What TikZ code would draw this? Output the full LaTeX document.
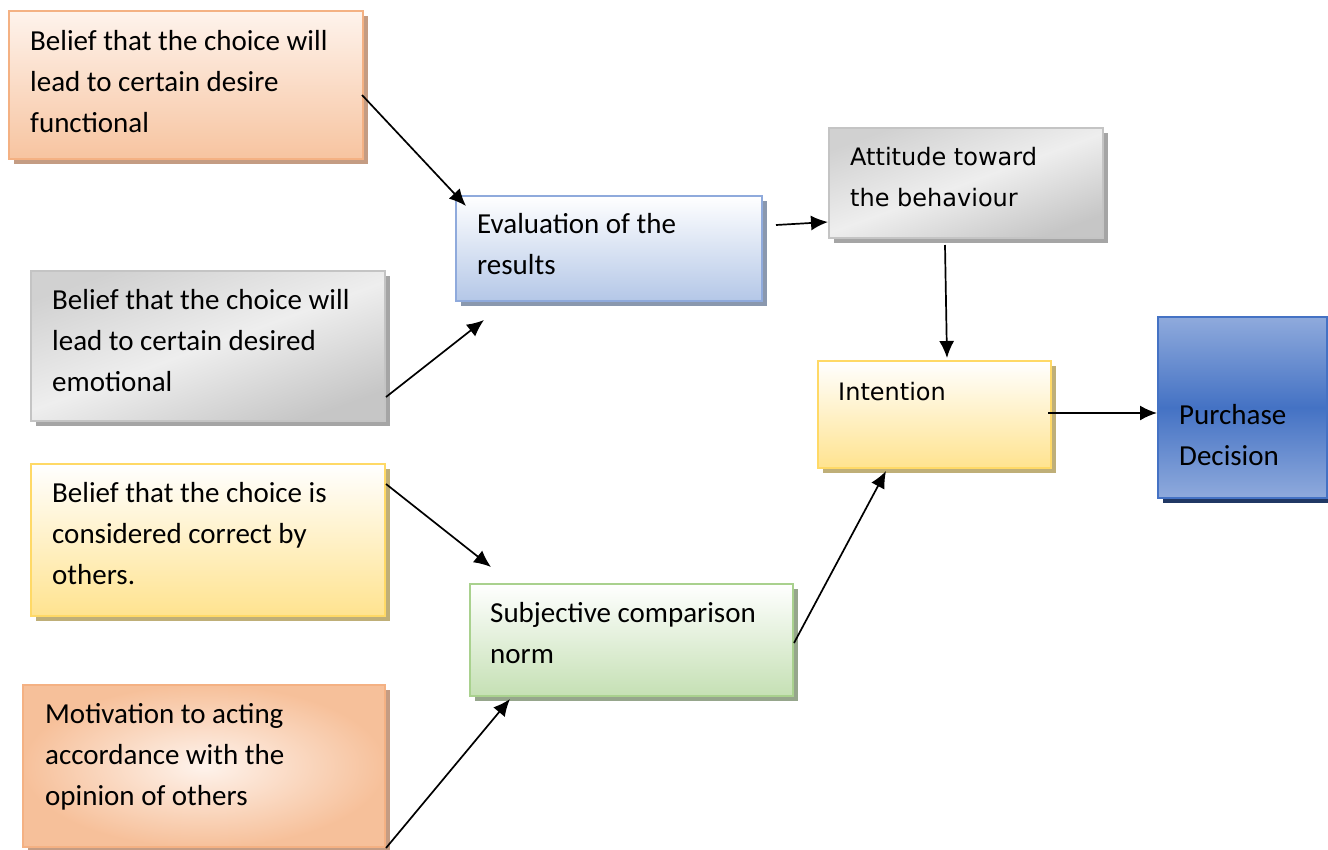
\documentclass[tikz,border=0pt]{standalone}
\usepackage{fontspec}
\setmainfont{Carlito}
\newfontfamily\dejavu{DejaVu Sans}
\usetikzlibrary{arrows.meta,shadows,calc}

\definecolor{orBorder}{HTML}{F4B183}
\definecolor{orLight}{HTML}{FEF3EC}
\definecolor{orDark}{HTML}{F7C4A0}
\definecolor{orShadow}{HTML}{C49C83}
\definecolor{grBorder}{HTML}{C4C4C4}
\definecolor{grLight}{HTML}{EEEEEE}
\definecolor{grDark}{HTML}{C6C6C6}
\definecolor{grShadow}{HTML}{A5A5A5}
\definecolor{ylBorder}{HTML}{FFD966}
\definecolor{ylDark}{HTML}{FFE38F}
\definecolor{ylShadow}{HTML}{BFAF78}
\definecolor{blBorder}{HTML}{8FAADC}
\definecolor{blDark}{HTML}{B4C7E7}
\definecolor{blShadow}{HTML}{8A98AE}
\definecolor{gnBorder}{HTML}{A9D18E}
\definecolor{gnDark}{HTML}{C5E0B4}
\definecolor{gnShadow}{HTML}{96A68C}
\definecolor{pdBorder}{HTML}{4472C4}
\definecolor{pdLight}{HTML}{8FAADC}
\definecolor{pdShadow}{HTML}{203864}

\tikzset{
  x=1pt, y=-1pt,
  box/.style={rectangle, anchor=north west, line width=2pt, inner sep=0pt},
  shad/.style={drop shadow={shadow xshift=5pt, shadow yshift=-5pt, fill=#1, opacity=1}},
  orangebox/.style={box, draw=orBorder, top color=orLight, bottom color=orDark, shad=orShadow},
  orangeglow/.style={box, draw=orBorder, inner color=orLight, outer color=orDark!80!orBorder, shad=orShadow},
  graybox/.style={box, draw=grBorder, top color=grDark!80, bottom color=grDark, middle color=grLight, shading angle=20, shad=grShadow},
  yellowbox/.style={box, draw=ylBorder, top color=white, bottom color=ylDark, shad=ylShadow},
  bluebox/.style={box, draw=blBorder, top color=white, bottom color=blDark, shad=blShadow},
  greenbox/.style={box, draw=gnBorder, top color=white, bottom color=gnDark, shad=gnShadow},
  darkbluebox/.style={box, draw=pdBorder, top color=pdLight, bottom color=pdLight, middle color=pdBorder, shad=pdShadow},
  % the base anchor of these multi-line texts sits on the last line
  txt/.style={anchor=base west, inner sep=0pt, align=left, font=\fontsize{29}{41}\selectfont},
  txtalt/.style={anchor=base west, inner sep=0pt, align=left, font=\dejavu\fontsize{24}{41}\selectfont},
  arr/.style={-{Latex[length=17pt,width=15pt]}, line width=1.7pt, black},
}

\begin{document}
\begin{tikzpicture}
\useasboundingbox (0,0) rectangle (1328,849);

% source beliefs on the left
\node[orangebox, minimum width=354pt, minimum height=148pt] (b1) at (8,10) {};
\node[graybox, minimum width=354pt, minimum height=150pt] (b2) at (30,270) {};
\node[yellowbox, minimum width=354pt, minimum height=152pt] (b3) at (30,463) {};
\node[orangeglow, minimum width=362pt, minimum height=162pt] (b4) at (22,684) {};

% intermediate evaluations
\node[bluebox, minimum width=306pt, minimum height=105pt] (ev) at (455,195) {};
\node[greenbox, minimum width=323pt, minimum height=112pt] (sc) at (469,583) {};
\node[graybox, minimum width=274pt, minimum height=110pt] (at) at (828,127) {};
\node[yellowbox, minimum width=233pt, minimum height=107pt] (in) at (817,360) {};
\node[darkbluebox, minimum width=169pt, minimum height=181pt] (pd) at (1157,316) {};

% box texts (positions give the baseline of the last line)
\node[txt] (t1) at ($(b1.north west)+(22,122)$) {Belief that the choice will\\lead to certain desire\\functional};
\node[txt] (t2) at ($(b2.north west)+(22,121)$) {Belief that the choice will\\lead to certain desired\\emotional};
\node[txt] (t3) at ($(b3.north west)+(22,121)$) {Belief that the choice is\\considered correct by\\others.};
\node[txt] (t4) at ($(b4.north west)+(23,121)$) {Motivation to acting\\accordance with the\\opinion of others};
\node[txt] (tev) at ($(ev.north west)+(22,79)$) {Evaluation of the\\results};
\node[txt] (tsc) at ($(sc.north west)+(21,80)$) {Subjective comparison\\norm};
\node[txtalt] (tat) at ($(at.north west)+(22,79)$) {Attitude toward\\the behaviour};
\node[txtalt] (tin) at ($(in.north west)+(21,40)$) {Intention};
\node[txt] (tpd) at ($(pd.north west)+(22,149)$) {Purchase\\Decision};

% connectors
\draw[arr] ($(b1.north east)+(-2,85)$) -- ($(ev.north west)+(11,11)$);
\draw[arr] ($(b2.north east)+(0,127)$) -- ($(ev.south west)+(29,18)$);
\draw[arr] ($(b3.north east)+(0,21)$) -- ($(sc.north west)+(22,-16)$);
\draw[arr] (b4.south east) -- ($(sc.south west)+(41,2)$);
\draw[arr] ($(ev.north east)+(13,30)$) -- ($(at.north west)+(0,95)$);
\draw[arr] ($(at.south west)+(117,6)$) -- ($(in.north west)+(130,-2)$);
\draw[arr] ($(sc.north east)+(0,60)$) -- ($(in.south west)+(69,2)$);
\draw[arr] ($(in.north east)+(-4,53)$) -- ($(pd.north west)+(0,97)$);
\end{tikzpicture}
\end{document}
